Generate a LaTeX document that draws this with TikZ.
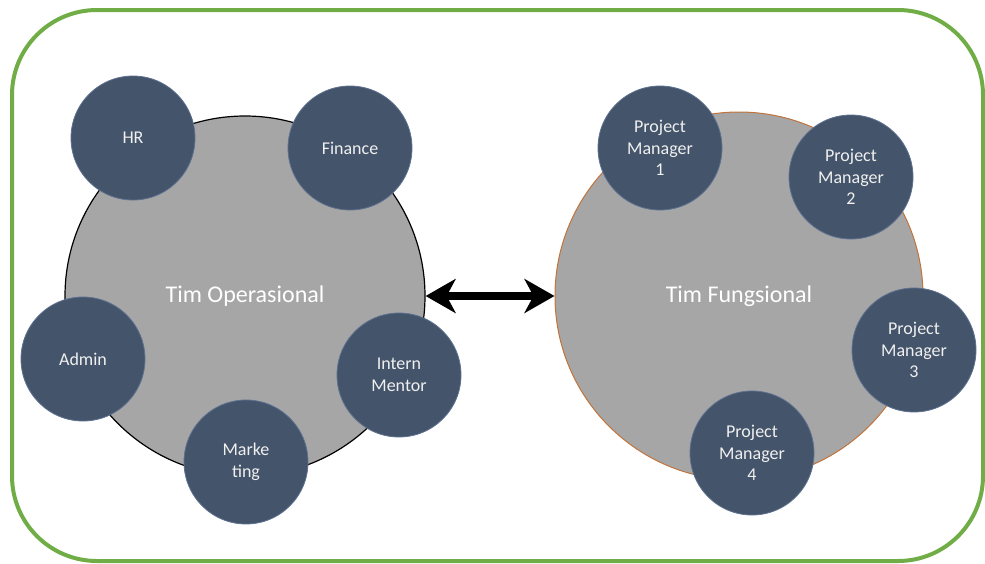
\documentclass[tikz,border=0pt]{standalone}
\usepackage{fontspec}
\setmainfont{Carlito}
\usetikzlibrary{arrows.meta}
\definecolor{framegreen}{HTML}{70AD47}
\definecolor{unitblue}{HTML}{44546A}
\definecolor{unitrim}{HTML}{5E7190}
\definecolor{teamgray}{HTML}{A6A6A6}
\definecolor{rimorange}{HTML}{C0743C}
\begin{document}
\begin{tikzpicture}[
		x=1pt, y=-1pt,
		frame/.style={draw=framegreen, line width=4pt, rounded corners=85pt},
		team/.style={circle, fill=teamgray, minimum size=360pt, inner sep=0pt,
			text=white, font=\fontsize{24}{29}\selectfont},
		unit/.style={circle, fill=unitblue, draw=unitrim, line width=0.8pt,
			minimum size=124pt, inner sep=0pt, align=center,
			text=white!94!black, font=\fontsize{18}{21.6}\selectfont},
		link/.style={line width=8pt, {Stealth[length=30pt,width=34pt,inset=9pt]}-{Stealth[length=30pt,width=34pt,inset=9pt]}}
		]
		\useasboundingbox (0,0) rectangle (985,563);
		
		% Outer frame
		\draw[frame] (12,10) rectangle (983,561);
		
		% Teams
		\node[team, draw=black, line width=1.2pt] (ops) at (245,296) {Tim Operasional};
		\node[team, draw=rimorange, line width=1pt, minimum size=368pt] (fung) at (739,296) {Tim Fungsional};
		
		% Operational units
		\node[unit] (hr) at (133,138) {HR};
		\node[unit] (fin) at (350,148) {Finance};
		\node[unit] (adm) at (83,359) {Admin};
		\node[unit] (mkt) at (246,462) {Marke\\ting};
		\node[unit] (mentor) at (399,375) {Intern\\Mentor};
		
		% Project managers
		\node[unit] (pm1) at (660,148) {Project\\Manager\\1};
		\node[unit] (pm2) at (851,177) {Project\\Manager\\2};
		\node[unit] (pm3) at (914,350) {Project\\Manager\\3};
		\node[unit] (pm4) at (752,453) {Project\\Manager\\4};
		
		% Link between teams
		\draw[link] (ops.east) -- (fung.west);
		
	\end{tikzpicture}
\end{document}
